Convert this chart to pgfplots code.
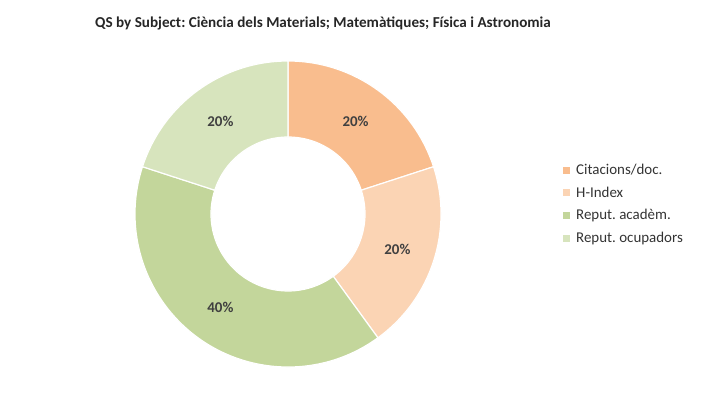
\documentclass[border=0pt]{standalone}
\usepackage{pgfplots}
\usepackage{pgfplotstable}
\usepackage{fontspec}
\setmainfont{Carlito}
\pgfplotsset{compat=1.18}
\definecolor{slice0}{RGB}{249,189,142}
\definecolor{slice1}{RGB}{251,212,180}
\definecolor{slice2}{RGB}{195,214,155}
\definecolor{slice3}{RGB}{215,228,189}
\definecolor{txt}{RGB}{64,64,64}
\pgfplotstableread[col sep=comma]{
name,value
Citacions/doc.,20
H-Index,20
Reput. acadèm.,40
Reput. ocupadors,20
}\donutdata
\begin{document}
\frenchspacing
\def\angcur{90}%
\pgfplotsforeachungrouped \i in {0,1,2,3}{%
  \pgfplotstablegetelem{\i}{value}\of\donutdata
  \pgfmathsetmacro\angnext{\angcur-3.6*\pgfplotsretval}%
  \pgfmathsetmacro\angmid{(\angcur+\angnext)/2}%
  \expandafter\xdef\csname angS\i\endcsname{\angcur}%
  \expandafter\xdef\csname angE\i\endcsname{\angnext}%
  \expandafter\xdef\csname angM\i\endcsname{\angmid}%
  \expandafter\xdef\csname val\i\endcsname{\pgfplotsretval}%
  \global\let\angcur\angnext
}%
\begin{tikzpicture}
\begin{axis}[
  x=1bp, y=1bp,
  xmin=0, xmax=702, ymin=0, ymax=401,
  hide axis, clip=false,
  legend style={draw=none, fill=none, at={(axis cs:560,241)}, anchor=north west,
    font=\fontsize{15}{18}\selectfont, text=black!80, row sep=6.8bp,
    /tikz/every odd column/.append style={column sep=4bp}},
  legend cell align=left,
  legend image code/.code={\fill[#1, draw=none] (0bp,-3.5bp) rectangle (7bp,3.5bp);},
]
\path (axis cs:0,0) rectangle (axis cs:702,401);
\pgfplotsinvokeforeach{0,1,2,3}{
  \fill[fill=slice#1, draw=white, line width=1.2pt]
    ([shift={(\csname angS#1\endcsname:153bp)}]axis cs:288,187)
    arc[start angle=\csname angS#1\endcsname, end angle=\csname angE#1\endcsname, radius=153bp]
    -- ([shift={(\csname angE#1\endcsname:77bp)}]axis cs:288,187)
    arc[start angle=\csname angE#1\endcsname, end angle=\csname angS#1\endcsname, radius=77bp]
    -- cycle;
  \node[font=\bfseries\fontsize{15}{17}\selectfont, text=txt]
    at ([shift={(\csname angM#1\endcsname:115bp)}]axis cs:288,187) {\csname val#1\endcsname\%};
}
\addlegendimage{fill=slice0}\addlegendentry{Citacions/doc.}
\addlegendimage{fill=slice1}\addlegendentry{H-Index}
\addlegendimage{fill=slice2}\addlegendentry{Reput. acadèm.}
\addlegendimage{fill=slice3}\addlegendentry{Reput. ocupadors}
\node[font=\bfseries\fontsize{15.2}{17}\selectfont, text=black!85]
  at (axis cs:323,378) {QS by Subject: Ciència dels Materials; Matemàtiques; Física i Astronomia};
\end{axis}
\end{tikzpicture}
\end{document}
